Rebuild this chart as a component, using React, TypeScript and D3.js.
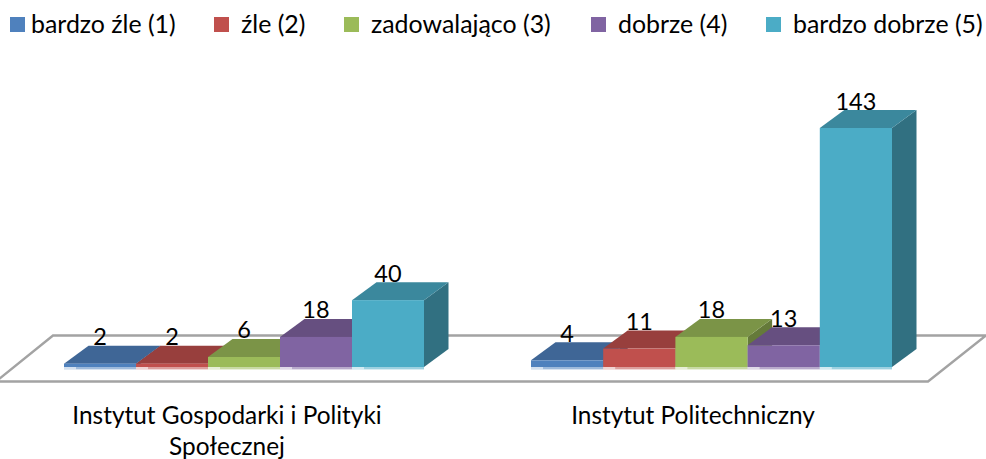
import React from "react";
import * as d3 from "d3";

const seriesNames = ["bardzo źle (1)", "źle (2)", "zadowalająco (3)", "dobrze (4)", "bardzo dobrze (5)"];
const groupOne = [2, 2, 6, 18, 40];
const groupTwo = [4, 11, 18, 13, 143];
const frontColors = ["#4F81BD", "#C0504D", "#9BBB59", "#8064A2", "#4BACC6"];
const legendSwatchX = [10, 214, 344, 591, 766];
const legendTextX = [31, 241, 371, 618, 793];

const W = 986, H = 459;
const FONT = "Lato, Carlito, Calibri, sans-serif";
const DX = 24.5, DY = 18, BASE = 367;

const y = d3.scaleLinear().domain([0, 143]).range([BASE, 128]);
const groups = [
  { values: groupOne, x0: 64, x1: 424 },
  { values: groupTwo, x0: 531, x1: 892 },
];
const floor = d3.line()([[53, 335.5], [986, 335.5], [928, 381.5], [-4, 381.5]]) + "Z";

function Bar({ v, i, x, w }: { v: number; i: number; x: number; w: number }) {
  const t = y(v);
  const c = d3.color(frontColors[i])!;
  const top = d3.rgb(c).darker(0.65).formatHex();
  const side = d3.rgb(c).darker(1.2).formatHex();
  const pts = (p: [number, number][]) => d3.line()(p) + "Z";
  return (
    <g>
      <path d={pts([[x + w, t], [x + w + DX, t - DY], [x + w + DX, BASE - DY], [x + w, BASE]])} fill={side} />
      <path d={pts([[x, t], [x + DX, t - DY], [x + w + DX, t - DY], [x + w, t]])} fill={top} />
      <rect x={x} y={t} width={w} height={BASE - t} fill={frontColors[i]} />
      <rect x={x} y={BASE} width={w} height={2.4} fill={frontColors[i]} opacity={0.55} />
      <rect x={x} y={BASE} width={12} height={2.4} fill="#fff" opacity={0.55} />
    </g>
  );
}

export default function App() {
  return (
    <svg width={W} height={H} style={{ position: "absolute", left: 0, top: 0, display: "block" }} fontFamily={FONT}>
      <rect width={W} height={H} fill="#fff" />
      <path d={floor} fill="#fff" stroke="#a3a3a3" strokeWidth={2.4} />
      {groups.map((g, gi) => {
        const xs = d3.scaleBand<number>().domain(d3.range(5)).range([g.x0, g.x1]);
        return (
          <g key={gi}>
            {g.values.map((v, i) => (
              <Bar key={i} v={v} i={i} x={xs(i)!} w={xs.bandwidth()} />
            ))}
            {g.values.map((v, i) => (
              <text key={i} x={xs(i)! + xs.bandwidth() / 2} y={y(v) - DY - 0.5} textAnchor="middle" fontSize={23.5} fill="#000">
                {v}
              </text>
            ))}
          </g>
        );
      })}
      {seriesNames.map((s, i) => (
        <g key={s}>
          <rect x={legendSwatchX[i]} y={17} width={15} height={15} fill={frontColors[i]} />
          <text x={legendTextX[i]} y={33} fontSize={24.9} fill="#000">{s}</text>
        </g>
      ))}
      <text x={227} y={424} textAnchor="middle" fontSize={24.4} fill="#000">Instytut Gospodarki i Polityki</text>
      <text x={227} y={455} textAnchor="middle" fontSize={24.4} fill="#000">Społecznej</text>
      <text x={693} y={424} textAnchor="middle" fontSize={24.4} fill="#000">Instytut Politechniczny</text>
    </svg>
  );
}
